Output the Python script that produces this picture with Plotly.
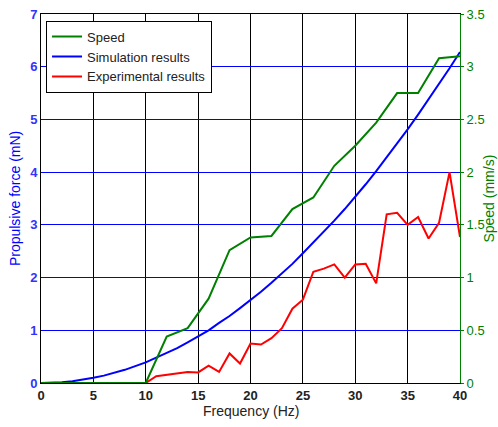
import plotly.graph_objects as go

freq_int = list(range(0, 41))
freq_even = list(range(0, 41, 2))
freq_exp = [0] + list(range(10, 41))

speed = [0, 0, 0, 0, 0, 0, 0.44, 0.52, 0.80, 1.26, 1.38,
         1.395, 1.65, 1.76, 2.06, 2.25, 2.47, 2.75, 2.75, 3.08, 3.10]

simulation = [0, 0.004, 0.016, 0.035, 0.063, 0.098, 0.14, 0.19, 0.25, 0.32, 0.39,
              0.48, 0.57, 0.66, 0.77, 0.88, 1.0, 1.14, 1.27, 1.42, 1.57,
              1.73, 1.9, 2.08, 2.26, 2.46, 2.66, 2.86, 3.08, 3.3, 3.53,
              3.77, 4.02, 4.28, 4.54, 4.81, 5.09, 5.38, 5.67, 5.97, 6.28]

experimental = [0, 0, 0.13, 0.16, 0.18, 0.21, 0.20, 0.33, 0.21, 0.56, 0.37, 0.75,
                0.73, 0.85, 1.04, 1.41, 1.58, 2.11, 2.17, 2.25, 2.0, 2.25,
                2.26, 1.89, 3.2, 3.23, 3.0, 3.15, 2.74, 3.04, 4.0, 2.77]

FONT = "Liberation Sans, Arial, sans-serif"

fig = go.Figure()
fig.add_trace(go.Scatter(x=freq_even, y=speed, name="Speed", mode="lines",
                         line=dict(color="#008000", width=2), yaxis="y2"))
fig.add_trace(go.Scatter(x=freq_int, y=simulation, name="Simulation results", mode="lines",
                         line=dict(color="#0000ff", width=2)))
fig.add_trace(go.Scatter(x=freq_exp, y=experimental, name="Experimental results", mode="lines",
                         line=dict(color="#ff0000", width=2)))

fig.update_layout(
    width=498, height=427,
    margin=dict(l=41, r=38, t=14, b=44, autoexpand=False),
    paper_bgcolor="white", plot_bgcolor="white",
    font=dict(family=FONT, size=13, color="black"),
    showlegend=True,
    legend=dict(x=0.012, y=0.982, xanchor="left", yanchor="top",
                bgcolor="white", bordercolor="black", borderwidth=1,
                font=dict(size=13, color="#222"), tracegroupgap=0,
                itemwidth=30),
    xaxis=dict(range=[0, 40], tickvals=[0, 5, 10, 15, 20, 25, 30, 35, 40],
               showgrid=True, gridcolor="black", gridwidth=1,
               showline=True, linecolor="black", linewidth=1, mirror=True,
               ticks="", zeroline=False, automargin=False,
               tickfont=dict(family=FONT, size=13, color="#222", weight="bold")),
    yaxis=dict(range=[0, 7], tickvals=[0, 1, 2, 3, 4, 5, 6, 7],
               showgrid=True, gridcolor="#0000ff", gridwidth=1,
               showline=True, linecolor="black", linewidth=1,
               ticks="", zeroline=False, automargin=False,
               tickfont=dict(family=FONT, size=13, color="#3333ff", weight="bold")),
    yaxis2=dict(range=[0, 3.5], tickvals=[0, 0.5, 1, 1.5, 2, 2.5, 3, 3.5],
                ticktext=["0", "0.5", "1", "1.5", "2", "2.5", "3", "3.5"],
                overlaying="y", side="right", showgrid=False,
                showline=True, linecolor="#008000", linewidth=1,
                ticks="outside", ticklen=3, tickcolor="#008000", zeroline=False,
                automargin=False,
                tickfont=dict(family=FONT, size=13, color="#008000")),
    annotations=[
        dict(text="Frequency (Hz)", xref="paper", yref="paper", x=0.5, y=-0.075,
             xanchor="center", yanchor="middle", showarrow=False,
             font=dict(size=14, color="#222")),
        dict(text="Propulsive force (mN)", xref="paper", yref="paper", x=-0.063, y=0.5,
             xanchor="center", yanchor="middle", textangle=-90, showarrow=False,
             font=dict(size=14, color="#0000ff")),
        dict(text="Speed (mm/s)", xref="paper", yref="paper", x=1.067, y=0.5,
             xanchor="center", yanchor="middle", textangle=-90, showarrow=False,
             font=dict(size=14, color="#008000")),
    ],
)

fig.write_html("out.html", config={"displayModeBar": False},
               post_script="document.body.style.margin='0';document.body.style.overflow='hidden';")
